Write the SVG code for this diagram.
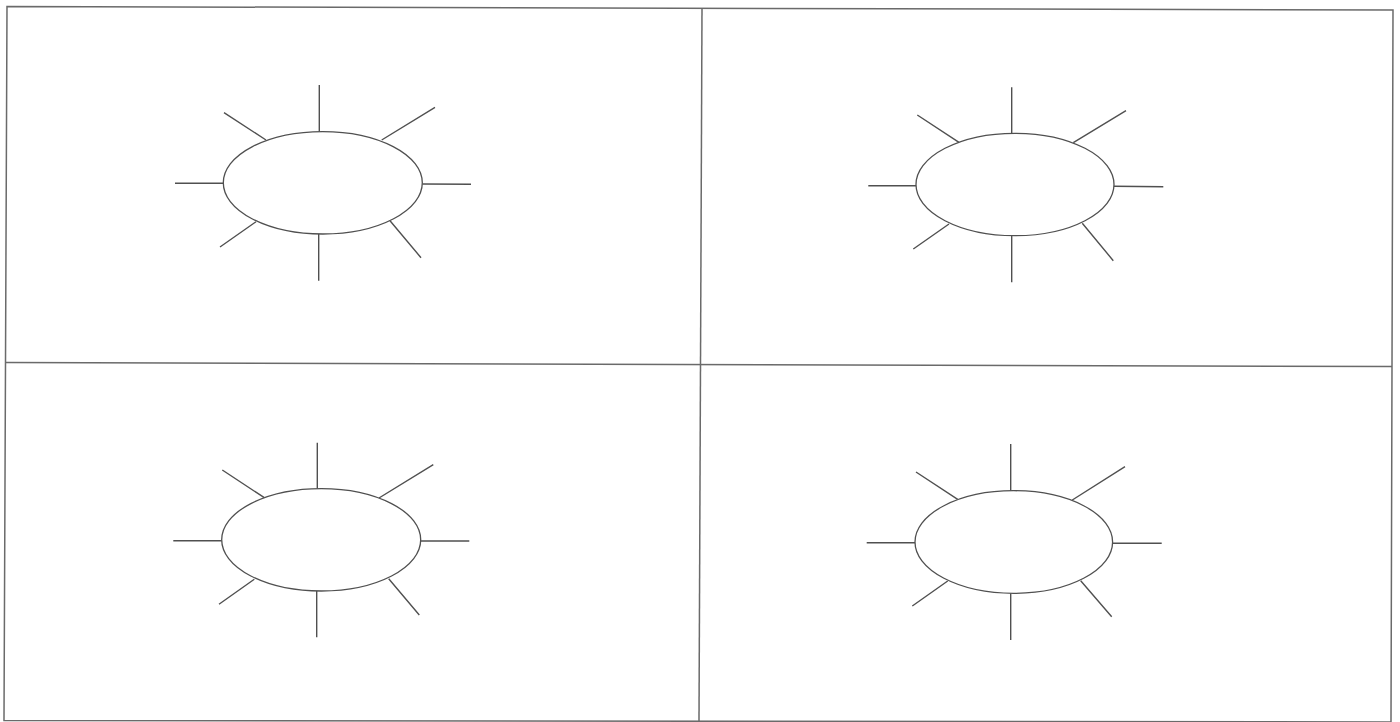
<svg xmlns="http://www.w3.org/2000/svg" width="1400" height="722" viewBox="0 0 1400 722">
<style>
.frame{fill:none;stroke:#6a6a6a;stroke-width:1.5}
.ell{fill:#fff;stroke:#505050;stroke-width:1.3}
.spoke{stroke:#505050;stroke-width:1.4;fill:none}
</style>
<rect width="1400" height="722" fill="#fff"/>
<g id="frame">
<path class="frame" d="M7,6.5 L1393,10 L1391,722 L4,720.5 Z"/>
<path class="frame" d="M6,362.5 L1392,366.5"/>
<path class="frame" d="M702,8 L699,721"/>
</g>
<g id="connectors">
<path class="spoke" d="M319.3,85 V131.7 M381.7,140 L435,107.3 M422.3,184 L471,184.3 M390,220.7 L421,257.7 M318.7,234 V280.7 M256,221.7 L220,247 M175,183.3 H223.3 M224,112.7 L266,140"/>
<path class="spoke" d="M1011.7,87.3 V133.3 M1073.3,142.7 L1126,110.7 M1114,186.3 L1163.3,186.7 M1082.3,223.3 L1113.3,260.7 M1011.7,235.7 V282.3 M949,224 L913.3,249 M868.3,185.7 H916 M917.3,115 L959,142.3"/>
<path class="spoke" d="M317.3,442.7 V488.7 M379,498 L433.3,464.7 M420.7,541 H469.3 M388.7,578.7 L419.3,615 M316.7,591 V637.3 M254.3,579.3 L219,604.3 M173.3,540.7 H221.7 M222.3,470 L264.3,497.7"/>
<path class="spoke" d="M1010.7,444 V490.7 M1072.3,500 L1125,466.7 M1112.7,543.3 H1161.7 M1080.7,580.7 L1111.7,616.7 M1010.7,593.3 V640 M947.7,581 L912.3,606 M866.7,542.7 H915 M916,472 L957.7,499.3"/>
</g>
<g id="node1"><ellipse class="ell" cx="322.8" cy="182.8" rx="99.5" ry="51.2"/></g>
<g id="node2"><ellipse class="ell" cx="1015" cy="184.5" rx="99" ry="51.2"/></g>
<g id="node3"><ellipse class="ell" cx="321.2" cy="539.8" rx="99.5" ry="51.2"/></g>
<g id="node4"><ellipse class="ell" cx="1013.8" cy="542" rx="98.8" ry="51.3"/></g>
</svg>
